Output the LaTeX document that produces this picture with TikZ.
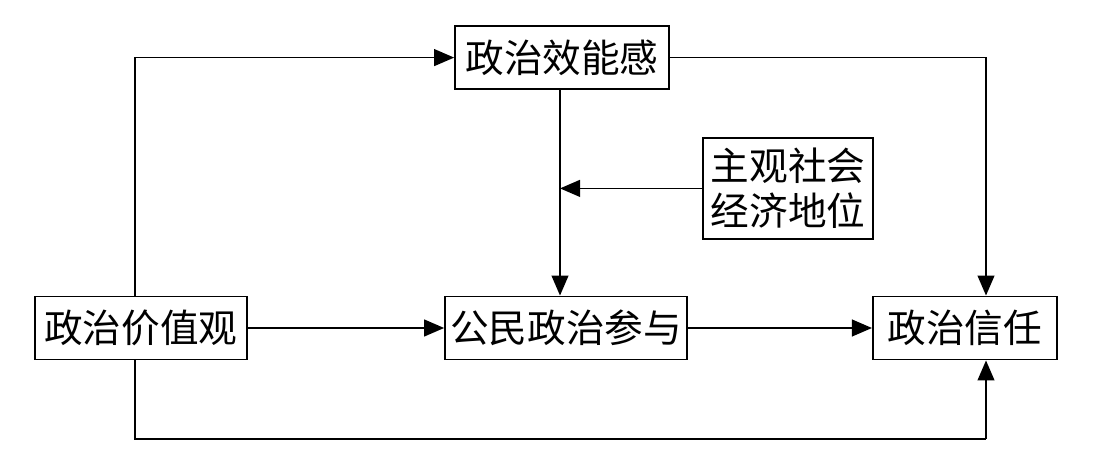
\documentclass[tikz,border=0pt]{standalone}
\usepackage{fontspec}
\setmainfont{Noto Sans CJK SC}
\usetikzlibrary{arrows.meta}

\begin{document}
\begin{tikzpicture}[
        box/.style={draw, line width=1.2pt, inner sep=0pt, minimum height=1.58cm,
            font=\fontsize{27.5}{32}\selectfont, align=center},
        link/.style={line width=1.2pt, -{Triangle[length=0.5cm, width=0.42cm]}},
        plain/.style={line width=1.2pt}
    ]
        \useasboundingbox (0,0) rectangle (27.8,11.55);

        \node[box, minimum width=5.35cm] (eff) at (14.05,10.11) {政治效能感};
        \node[box, minimum width=4.25cm, minimum height=2.52cm] (ses) at (19.7,6.84) {主观社会\\经济地位};
        \node[box, minimum width=5.3cm] (val) at (3.52,3.35) {政治价值观};
        \node[box, minimum width=6.05cm] (part) at (14.15,3.35) {公民政治参与};
        \node[box, minimum width=4.6cm] (trust) at (24.12,3.35) {政治信任};

        \coordinate (valup) at (3.38,3.35);
        \coordinate (trustup) at (24.65,3.35);
        \coordinate (effdown) at (14.0,10.11);
        \coordinate (bottom) at (3.38,0.58);

        % upper paths
        \draw[link] (valup |- val.north) |- (eff.west);
        \draw[link] (eff.east) -| (trustup |- trust.north);
        \draw[link] (effdown |- eff.south) -- (effdown |- part.north);
        \draw[link] (ses.west) -- (ses.west -| effdown);

        % middle row
        \draw[link] (val.east) -- (part.west);
        \draw[link] (part.east) -- (trust.west);

        % lower path
        \draw[plain] (valup |- val.south) -- (bottom) -- (bottom -| trustup);
        \draw[link] (bottom -| trustup) -- (trustup |- trust.south);
    \end{tikzpicture}
\end{document}
